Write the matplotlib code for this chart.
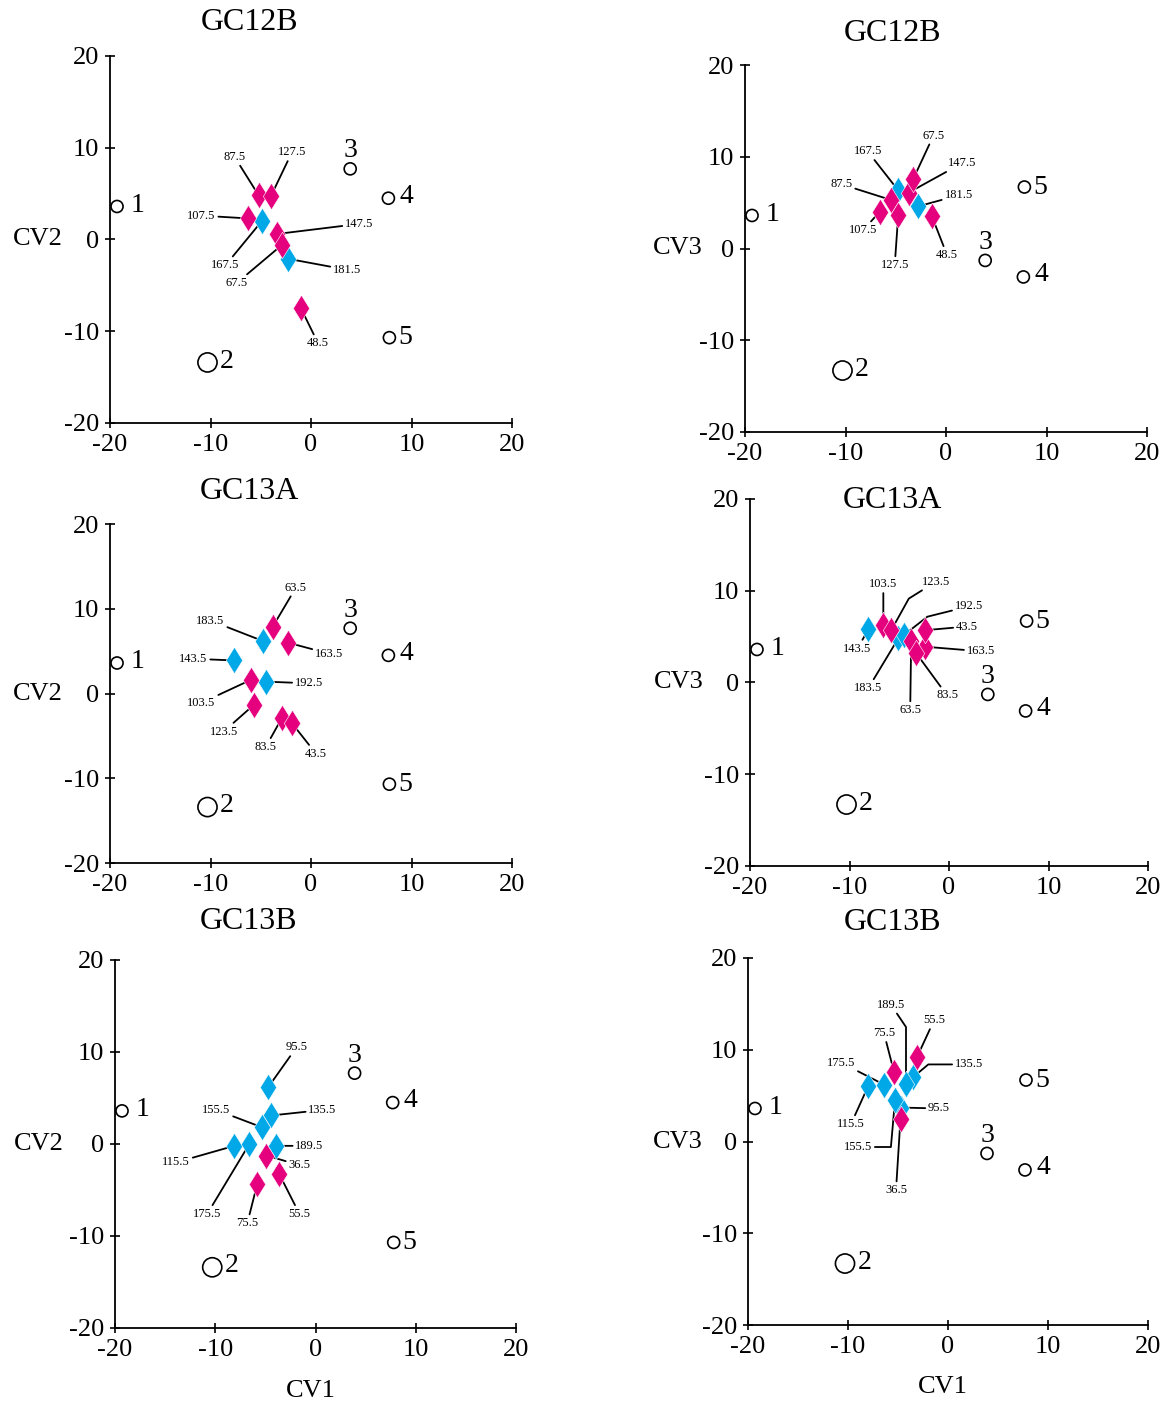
import matplotlib
matplotlib.use('Agg')
import matplotlib.pyplot as plt

plt.rcParams['font.family'] = ['Liberation Serif', 'DejaVu Serif']
plt.rcParams['axes.unicode_minus'] = False

MAGENTA = '#E5007E'
CYAN = '#00A8E8'

# group centroids (open circles)
cent_ids = ['1', '2', '3', '4', '5']
cent_cv1 = [-19.3, -10.3, 3.9, 7.7, 7.8]
cent_cv2 = [3.6, -13.4, 7.7, 4.5, -10.7]
cent_cv3 = [3.6, -13.3, -1.3, -3.1, 6.7]

# GC12B samples (m = magenta, c = cyan)
gc12b_ids = ['87.5', '127.5', '107.5', '167.5', '147.5', '67.5', '181.5', '48.5']
gc12b_grp = ['m', 'm', 'm', 'c', 'm', 'm', 'c', 'm']
gc12b_cv1_a = [-5.2, -4.0, -6.3, -4.9, -3.4, -2.9, -2.3, -1.0]
gc12b_cv2 = [4.8, 4.7, 2.3, 2.0, 0.6, -0.6, -2.1, -7.5]
gc12b_cv1_b = [-5.5, -4.75, -6.6, -4.8, -3.7, -3.25, -2.75, -1.4]
gc12b_cv3 = [5.3, 3.7, 4.0, 6.4, 6.1, 7.6, 4.6, 3.5]

# GC13A samples
gc13a_ids = ['63.5', '183.5', '163.5', '143.5', '103.5', '192.5', '123.5', '83.5', '43.5']
gc13a_grp = ['m', 'c', 'm', 'c', 'm', 'c', 'm', 'm', 'm']
gc13a_cv1_a = [-3.8, -4.8, -2.3, -7.7, -6.0, -4.5, -5.7, -2.9, -1.9]
gc13a_cv2 = [7.9, 6.2, 6.0, 3.9, 1.6, 1.4, -1.35, -2.9, -3.5]
gc13a_cv1_b = [-3.8, -5.1, -2.4, -8.1, -6.6, -4.5, -5.8, -3.3, -2.4]
gc13a_cv3 = [4.55, 4.8, 3.9, 5.8, 6.3, 5.2, 5.7, 3.2, 5.7]

# GC13B samples
gc13b_ids = ['95.5', '135.5', '155.5', '189.5', '115.5', '175.5', '36.5', '55.5', '75.5']
gc13b_grp = ['c', 'c', 'c', 'c', 'c', 'c', 'm', 'm', 'm']
gc13b_cv1_a = [-4.7, -4.4, -5.3, -3.9, -8.1, -6.6, -4.9, -3.6, -5.8]
gc13b_cv2 = [6.2, 3.1, 1.8, -0.2, -0.2, 0.0, -1.25, -3.3, -4.3]
gc13b_cv1_b = [-4.75, -3.5, -5.3, -4.2, -8.0, -6.4, -4.75, -3.1, -5.4]
gc13b_cv3 = [3.7, 7.0, 4.5, 6.3, 6.0, 6.2, 2.5, 9.2, 7.6]

# label positions (data coords) for each panel
p1_lx = [-7.6, -1.9, -10.9, -8.5, 4.8, -7.4, 3.6, 0.7]
p1_ly = [9.0, 9.5, 2.6, -2.8, 1.7, -4.75, -3.3, -11.3]
p2_lx = [-10.4, -5.1, -8.25, -7.8, 1.6, -1.25, 1.25, 0.1]
p2_ly = [7.0, -1.8, 2.0, 10.6, 9.3, 12.3, 5.8, -0.7]
p3_lx = [-1.5, -10.0, 1.8, -11.7, -10.9, -0.2, -8.7, -4.5, 0.5]
p3_ly = [12.5, 8.6, 4.7, 4.1, -1.1, 1.2, -4.5, -6.3, -7.1]
p4_lx = [-3.9, -8.1, 3.2, -9.2, -6.6, 2.0, -1.3, -0.2, 1.8]
p4_ly = [-3.0, -0.6, 3.4, 3.7, 10.7, 8.3, 11.0, -1.4, 6.1]
p5_lx = [-1.9, 0.7, -9.9, -0.6, -13.9, -10.8, -1.6, -1.6, -6.8]
p5_ly = [10.5, 3.7, 3.7, -0.2, -2.0, -7.6, -2.3, -7.6, -8.6]
p6_lx = [-0.9, 2.1, -9.0, -5.7, -9.7, -10.7, -5.2, -1.4, -6.4]
p6_ly = [3.6, 8.4, -0.6, 14.9, 1.9, 8.6, -5.3, 13.2, 11.8]

# bent leader lines: (panel index, label) -> connection style
bent = {
    (3, '192.5'): 'angle,angleA=14,angleB=38,rad=0',
    (3, '123.5'): 'angle,angleA=32,angleB=61,rad=0',
    (5, '189.5'): 'angle,angleA=-56,angleB=90,rad=0',
    (5, '135.5'): 'angle,angleA=0,angleB=40,rad=0',
    (5, '155.5'): 'angle,angleA=0,angleB=85,rad=0',
}

FW, FH = 1168, 1405
# panels: pixel box (left, top, right, bottom), title, title position (axes frac), y label
panels = [
    ((110, 56, 512, 423), 'GC12B', (0.346, 1.09), 'CV2', -0.18,
     gc12b_ids, gc12b_grp, gc12b_cv1_a, gc12b_cv2, p1_lx, p1_ly, cent_cv2, False),
    ((745, 65, 1147, 432), 'GC12B', (0.368, 1.085), 'CV3', -0.167,
     gc12b_ids, gc12b_grp, gc12b_cv1_b, gc12b_cv3, p2_lx, p2_ly, cent_cv3, False),
    ((110, 524, 512, 863), 'GC13A', (0.348, 1.095), 'CV2', -0.18,
     gc13a_ids, gc13a_grp, gc13a_cv1_a, gc13a_cv2, p3_lx, p3_ly, cent_cv2, False),
    ((750, 499, 1148, 866), 'GC13A', (0.359, 0.995), 'CV3', -0.18,
     gc13a_ids, gc13a_grp, gc13a_cv1_b, gc13a_cv3, p4_lx, p4_ly, cent_cv3, False),
    ((115, 960, 516, 1328), 'GC13B', (0.334, 1.104), 'CV2', -0.19,
     gc13b_ids, gc13b_grp, gc13b_cv1_a, gc13b_cv2, p5_lx, p5_ly, cent_cv2, True),
    ((748, 958, 1148, 1325), 'GC13B', (0.3625, 1.098), 'CV3', -0.175,
     gc13b_ids, gc13b_grp, gc13b_cv1_b, gc13b_cv3, p6_lx, p6_ly, cent_cv3, True),
]

diamond = [(0, 1), (0.62, 0), (0, -1), (-0.62, 0), (0, 1)]
cent_offsets = [(15, 1), (14, 1), (0, 13), (13, 1.5), (11.5, 0)]
cent_sizes = [75, 190, 75, 75, 75]

fig = plt.figure(figsize=(FW / 100, FH / 100), dpi=100)

for k, (box, title, tpos, ylab, ylx, ids, grp, xs, ys, lxs, lys, cy, show_x) in enumerate(panels):
    l, t, r, b = box
    ax = fig.add_axes([l / FW, 1 - b / FH, (r - l) / FW, (b - t) / FH])
    ax.set_xlim(-20, 20)
    ax.set_ylim(-20, 20)
    for s in ['top', 'right']:
        ax.spines[s].set_visible(False)
    for s in ['left', 'bottom']:
        ax.spines[s].set_linewidth(1.3)
    ax.set_xticks([-20, -10, 0, 10, 20])
    ax.set_yticks([-20, -10, 0, 10, 20])
    ax.tick_params(direction='inout', length=7, width=1.2, labelsize=19, pad=4.5)
    ax.patch.set_visible(False)

    # title and axis labels
    ax.text(tpos[0], tpos[1], title, transform=ax.transAxes, ha='center',
            va='center', fontsize=23)
    ax.text(ylx, 0, ylab, transform=ax.get_yaxis_transform(), ha='center',
            va='center', fontsize=19)
    if show_x:
        ax.text(-0.5, -0.17, 'CV1', transform=ax.get_xaxis_transform(),
                ha='center', va='center', fontsize=19)

    # group centroids
    ax.scatter(cent_cv1, cy, s=cent_sizes, facecolors='white',
               edgecolors='black', linewidths=1.2, zorder=4, clip_on=False)
    for i, lab in enumerate(cent_ids):
        ax.annotate(lab, (cent_cv1[i], cy[i]), xytext=cent_offsets[i],
                    textcoords='offset points', ha='center', va='center',
                    fontsize=20)

    # leader lines + sample labels
    for i, lab in enumerate(ids):
        cs = bent.get((k, lab), 'arc3')
        ax.annotate(lab, (xs[i], ys[i]), xytext=(lxs[i], lys[i]),
                    textcoords='data', ha='center', va='center', fontsize=9,
                    arrowprops=dict(arrowstyle='-', lw=1.3, color='black',
                                    shrinkA=0, shrinkB=4, connectionstyle=cs),
                    zorder=2)

    # samples: cyan first, magenta on top
    for g, col in [('c', CYAN), ('m', MAGENTA)]:
        gx = [xs[i] for i in range(len(ids)) if grp[i] == g]
        gy = [ys[i] for i in range(len(ids)) if grp[i] == g]
        ax.scatter(gx, gy, s=360, marker=diamond, color=col,
                   edgecolors='white', linewidths=0.4, zorder=3)

fig.savefig('out.png', dpi=100)
